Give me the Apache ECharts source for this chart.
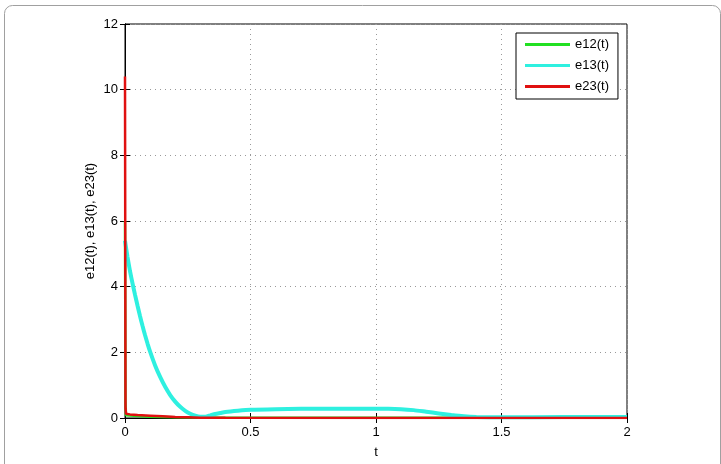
<!DOCTYPE html>
<html>
<head>
<meta charset="utf-8">
<script src="https://cdn.jsdelivr.net/npm/echarts@6/dist/echarts.min.js"></script>
<style>html,body{margin:0;padding:0;background:#fff}#c{width:721px;height:464px}</style>
</head>
<body>
<div id="c"></div>
<script>
var xTicks = [0, 0.5, 1, 1.5, 2];
var yTicks = [0, 2, 4, 6, 8, 10, 12];
var seriesNames = ['e12(t)', 'e13(t)', 'e23(t)'];

var t12 = [0, 0.002, 0.004, 0.05, 0.1, 0.2, 0.4, 1, 1.5, 2];
var e12 = [6.0, 0.5, 0.08, 0.06, 0.04, 0.02, 0.01, 0.01, 0.01, 0.01];

var t13 = [0, 0.01, 0.02, 0.03, 0.04, 0.05, 0.06, 0.07, 0.08, 0.09, 0.10, 0.12, 0.14, 0.16, 0.18, 0.20, 0.22, 0.24, 0.26, 0.28, 0.30, 0.32, 0.34, 0.36, 0.38, 0.40, 0.45, 0.50, 0.6, 0.7, 0.8, 0.9, 1.0, 1.05, 1.1, 1.15, 1.2, 1.25, 1.3, 1.35, 1.4, 1.5, 1.75, 2];
var e13 = [5.4, 4.9, 4.47, 4.1, 3.75, 3.42, 3.1, 2.8, 2.52, 2.26, 2.02, 1.6, 1.25, 0.95, 0.7, 0.5, 0.34, 0.22, 0.13, 0.07, 0.04, 0.04, 0.08, 0.12, 0.15, 0.18, 0.22, 0.25, 0.27, 0.28, 0.28, 0.28, 0.28, 0.28, 0.27, 0.24, 0.19, 0.14, 0.09, 0.05, 0.03, 0.02, 0.03, 0.03];

var t23 = [0, 0.002, 0.004, 0.02, 0.05, 0.1, 0.15, 0.2, 0.25, 0.3, 0.4, 1, 2];
var e23 = [10.4, 0.3, 0.13, 0.11, 0.09, 0.07, 0.05, 0.03, 0.02, 0.01, 0.005, 0, 0];

function pairs(t, v) { return t.map(function (x, i) { return [x, v[i]]; }); }

var font = 'Liberation Sans, Arial, Helvetica, sans-serif';
var chart = echarts.init(document.getElementById('c'), null, {renderer: 'canvas'});
var gridLine = {show: true, lineStyle: {color: '#999', type: [1, 4], width: 1}};
chart.setOption({
  animation: false,
  backgroundColor: '#fff',
  graphic: [{
    type: 'rect', left: 2, top: 3, silent: true, z: -10,
    shape: {width: 716, height: 500, r: 8},
    style: {fill: 'none', stroke: '#a0a0a0', lineWidth: 1}
  }],
  grid: {left: 125, right: 94, top: 24, bottom: 45, show: true, borderColor: '#000', borderWidth: 1, backgroundColor: 'transparent'},
  legend: {
    orient: 'vertical', left: 516, top: 33,
    data: seriesNames.map(function (n) { return {name: n, icon: 'rect'}; }),
    itemWidth: 45, itemHeight: 3, itemGap: 8,
    padding: [5, 9, 6, 9],
    borderColor: '#000', borderWidth: 1, backgroundColor: '#fff',
    textStyle: {fontFamily: font, fontSize: 13, color: '#000'}
  },
  xAxis: [{
    type: 'value', min: 0, max: 2, interval: 0.5,
    name: 't', nameLocation: 'middle', nameGap: 28,
    nameTextStyle: {fontFamily: font, fontSize: 13, color: '#000'},
    axisLine: {show: true, lineStyle: {color: '#000', width: 1}},
    axisTick: {show: true, inside: true, length: 5, lineStyle: {color: '#000'}},
    axisLabel: {fontFamily: font, fontSize: 13, color: '#000', margin: 8,
      formatter: function (v) { return String(v); }},
    splitLine: gridLine
  }, {
    type: 'value', position: 'top', min: 0, max: 2, interval: 0.5,
    axisLine: {show: true, lineStyle: {color: '#000'}},
    axisTick: {show: true, inside: true, length: 5, lineStyle: {color: '#000'}},
    axisLabel: {show: false}, splitLine: {show: false}
  }],
  yAxis: [{
    type: 'value', min: 0, max: 12, interval: 2,
    name: 'e12(t), e13(t), e23(t)', nameLocation: 'middle', nameGap: 28, nameMoveOverlap: false,
    nameTextStyle: {fontFamily: font, fontSize: 13, color: '#000'},
    axisLine: {show: true, lineStyle: {color: '#000', width: 1}},
    axisTick: {show: true, inside: true, length: 5, lineStyle: {color: '#000'}},
    axisLabel: {fontFamily: font, fontSize: 13, color: '#000', margin: 7},
    splitLine: gridLine
  }, {
    type: 'value', position: 'right', min: 0, max: 12, interval: 2,
    axisLine: {show: true, lineStyle: {color: '#000'}},
    axisTick: {show: true, inside: true, length: 5, lineStyle: {color: '#000'}},
    axisLabel: {show: false}, splitLine: {show: false}
  }],
  series: [{
    name: seriesNames[0], type: 'line', showSymbol: false, data: pairs(t12, e12),
    itemStyle: {color: '#22e022'}, lineStyle: {color: '#22e022', width: 2.5}, z: 2
  }, {
    name: seriesNames[1], type: 'line', showSymbol: false, data: pairs(t13, e13), smooth: 0.2,
    itemStyle: {color: '#2ef0e0'}, lineStyle: {color: '#2ef0e0', width: 4}, z: 3
  }, {
    name: seriesNames[2], type: 'line', showSymbol: false, data: pairs(t23, e23),
    itemStyle: {color: '#e01010'}, lineStyle: {color: '#e01010', width: 2.5}, z: 4
  }]
});
</script>
</body>
</html>
